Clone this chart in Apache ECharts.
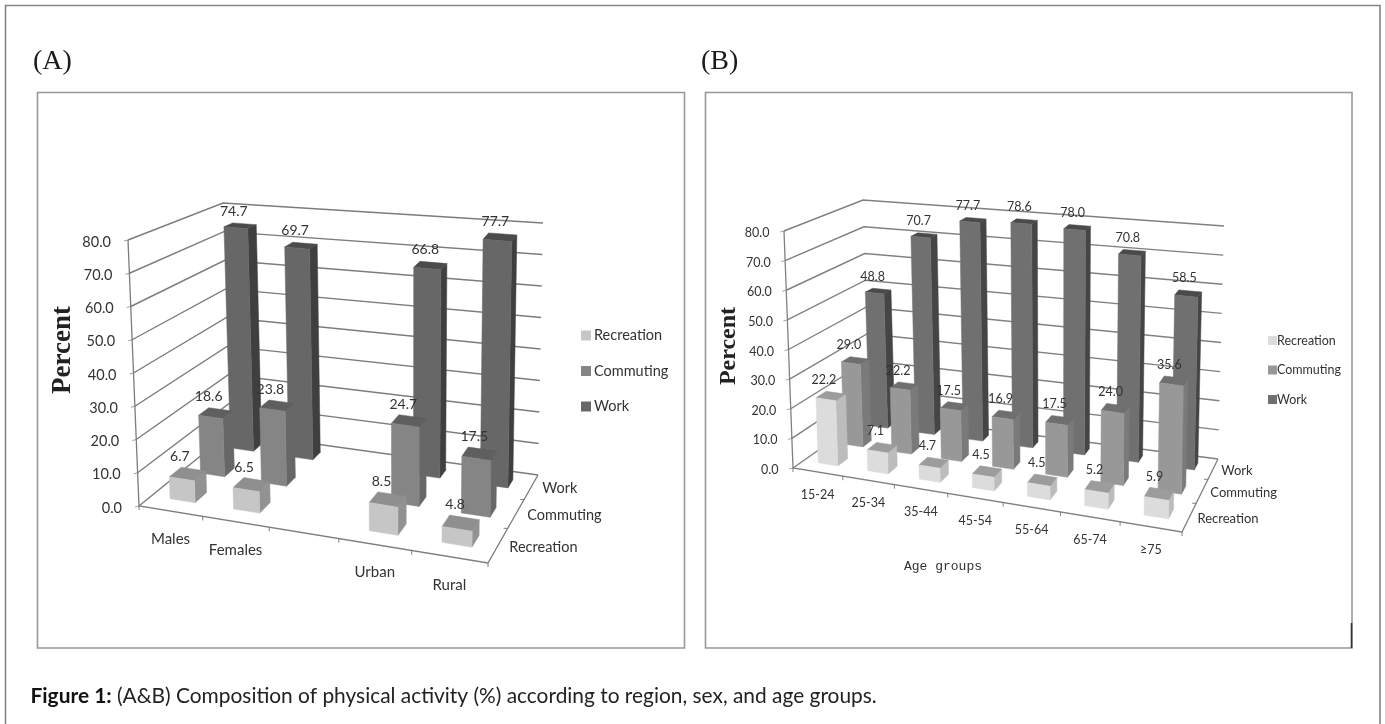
<!DOCTYPE html>
<html><head><meta charset="utf-8">
<style>html,body{margin:0;padding:0;background:#fff}#c{width:1385px;height:724px}</style>
<script src="https://cdn.jsdelivr.net/npm/echarts@6/dist/echarts.min.js"></script>
</head><body><div id="c"></div>
<script>
// ---------- data ----------
const seriesNames = ['Recreation', 'Commuting', 'Work'];
const yTicks = [0, 10, 20, 30, 40, 50, 60, 70, 80];

const categoriesA = ['Males', 'Females', '', 'Urban', 'Rural'];
const recreationA = [6.7, 6.5, null, 8.5, 4.8];
const commutingA  = [18.6, 23.8, null, 24.7, 17.5];
const workA       = [74.7, 69.7, null, 66.8, 77.7];

const categoriesB = ['15-24', '25-34', '35-44', '45-54', '55-64', '65-74', '≥75'];
const recreationB = [22.2, 7.1, 4.7, 4.5, 4.5, 5.2, 5.9];
const commutingB  = [29.0, 22.2, 17.5, 16.9, 17.5, 24.0, 35.6];
const workB       = [48.8, 70.7, 77.7, 78.6, 78.0, 70.8, 58.5];

// ---------- layout & style of each panel: a hand-made 3D box (8 screen corners) ----------
const depthCentres = [0.5, 1.42, 2.5];
const panelA = {
  grid: {left: 139, top: 198, width: 349, height: 304},
  flb: [139, 506], flt: [128, 240], blb: [230, 432], blt: [223, 203],
  frb: [488, 563], frt: [492, 295], brb: [538, 475], brt: [543, 223],
  persU: 0.12, persW: 0.3,
  font: {value: 14, axis: 14.5, cat: 15, depth: 14.5},
  catDy: 28, depthDx: 11, axisDx: -17,
  colors: [
    {front: '#c6c6c6', top: '#8f8f8f', side: '#929292'},
    {front: '#858585', top: '#5f5f5f', side: '#676767'},
    {front: '#676767', top: '#4b4b4b', side: '#3f3f3f'}
  ],
  line: '#7c7c7c', wall: '#a0a0a0'
};
const panelB = {
  grid: {left: 793, top: 200, width: 300, height: 292},
  flb: [793, 468], flt: [784, 231], blb: [870, 414], blt: [863, 200],
  frb: [1182, 532], frt: [1186, 277], brb: [1218, 459], brt: [1224, 226],
  persU: 0.135, persW: 0.3,
  font: {value: 12.5, axis: 12.5, cat: 12.5, depth: 13},
  catDy: 23, depthDx: 8, axisDx: -14.5,
  colors: [
    {front: '#dcdcdc', top: '#9c9c9c', side: '#bcbcbc'},
    {front: '#989898', top: '#6f6f6f', side: '#7a7a7a'},
    {front: '#707070', top: '#4a4a4a', side: '#454545'}
  ],
  line: '#808080', wall: '#a6a6a6'
};
const FONT = 'Lato, "Open Sans", sans-serif';
const TEXT = '#333333';

// ---------- projection ----------
function project(P, u, w, v) {
  const uu = u / (1 + P.persU * (1 - u));
  const ww = w * (1 + P.persW) / (1 + P.persW * w);
  const mix = (a, b, t) => [a[0] + (b[0] - a[0]) * t, a[1] + (b[1] - a[1]) * t];
  const bottom = mix(mix(P.flb, P.frb, uu), mix(P.blb, P.brb, uu), ww);
  const top = mix(mix(P.flt, P.frt, uu), mix(P.blt, P.brt, uu), ww);
  return mix(bottom, top, v);
}
function toUV(P, pt) {
  const g = P.grid;
  return [(pt[0] - g.left) / g.width, (g.top + g.height - pt[1]) / g.height];
}
const poly = (points, fill) => ({type: 'polygon', shape: {points}, style: {fill, stroke: fill, lineWidth: 0.5}});
const line = (points, stroke, lineWidth) => ({type: 'polyline', shape: {points}, style: {fill: 'none', stroke, lineWidth}});
const text = (t, x, y, size, align) => ({type: 'text', style: {text: t, x, y, fill: TEXT, font: size + 'px ' + FONT, align: align || 'center', verticalAlign: 'middle'}});
const depthRange = d => [(depthCentres[d] - 0.17) / 3, (depthCentres[d] + 0.17) / 3];

// ---------- render functions ----------
function barRenderer(P, depth) {
  return function (params, api) {
    const val = api.value(1);
    if (val == null || isNaN(val)) return;
    const c = toUV(P, api.coord([api.value(0), val]));
    const band = api.size([1, 0])[0] / P.grid.width;
    const u0 = c[0] - band * 0.2, u1 = c[0] + band * 0.2;
    const [w0, w1] = depthRange(depth);
    const v = c[1], col = P.colors[depth];
    return {type: 'group', children: [
      poly([project(P, u1, w0, 0), project(P, u1, w1, 0), project(P, u1, w1, v), project(P, u1, w0, v)], col.side),
      poly([project(P, u0, w0, v), project(P, u1, w0, v), project(P, u1, w1, v), project(P, u0, w1, v)], col.top),
      poly([project(P, u0, w0, 0), project(P, u1, w0, 0), project(P, u1, w0, v), project(P, u0, w0, v)], col.front)
    ]};
  };
}
function valueLabelRenderer(P, size) {
  return function (params, api) {
    const val = api.value(1), depth = api.value(2);
    if (val == null || isNaN(val)) return;
    const c = toUV(P, api.coord([api.value(0), val]));
    const [w0, w1] = depthRange(depth);
    const a = project(P, c[0], w0, c[1]), b = project(P, c[0], w1, c[1]);
    return text(val.toFixed(1), a[0] - 2, b[1] - 12.5, size);
  };
}
function wallRenderer(P) {
  return function (params, api) {
    const v = toUV(P, api.coord([0, api.value(0)]))[1];
    const tickEnd = project(P, 0, 0, v);
    return {type: 'group', children: [
      line([project(P, 0, 0, v), project(P, 0, 1, v), project(P, 1, 1, v)], P.line, 1.4),
      line([tickEnd, [tickEnd[0] - 4, tickEnd[1] + 1]], P.wall, 1),
      text(api.value(0).toFixed(1), tickEnd[0] + P.axisDx, tickEnd[1] + 2, P.font.axis, 'right')
    ]};
  };
}
function frameRenderer(P, nCat) {
  return function () {
    const kids = [
      line([project(P, 0, 0, 1), project(P, 0, 0, 0), project(P, 1, 0, 0), project(P, 1, 1, 0)], P.line, 1.3)
    ];
    for (let i = 0; i <= nCat; i++) {
      const p = project(P, i / nCat, 0, 0);
      kids.push(line([p, [p[0], p[1] + 4]], P.line, 1));
    }
    for (let i = 1; i < 3; i++) {
      const p = project(P, 1, i / 3, 0);
      kids.push(line([p, [p[0] - 4, p[1]]], P.line, 1));
    }
    return {type: 'group', children: kids};
  };
}
const labelsOf = P => P === panelA ? categoriesA : categoriesB;
function categoryRenderer(P) {
  return function (params, api) {
    const u = toUV(P, api.coord([api.value(0), 0]))[0];
    const p = project(P, u, 0, 0);
    return text(labelsOf(P)[params.dataIndex], p[0], p[1] + P.catDy, P.font.cat);
  };
}
function depthRenderer(P) {
  return function (params) {
    const i = params.dataIndex;
    const p = project(P, 1, (i + 0.5) / 3, 0);
    return text(seriesNames[i], p[0] + P.depthDx, p[1] + 2, P.font.depth, 'left');
  };
}

// ---------- option builders ----------
function panelSeries(P, idx, cats, values) {
  const base = {type: 'custom', xAxisIndex: idx, yAxisIndex: idx, coordinateSystem: 'cartesian2d', silent: true, clip: false, animation: false};
  const list = [
    {...base, name: 'walls' + idx, z: 1, data: yTicks.map(t => [t]), encode: {x: 'none', y: 0}, renderItem: wallRenderer(P)},
    {...base, name: 'frame' + idx, z: 2, data: [[0, 0]], renderItem: frameRenderer(P, cats.length)},
    {...base, name: 'categories' + idx, z: 2, data: cats.map((c, i) => [i, 0]), renderItem: categoryRenderer(P)},
    {...base, name: 'depth' + idx, z: 2, data: seriesNames.map(() => [0, 0]), renderItem: depthRenderer(P)}
  ];
  [2, 1, 0].forEach((d, order) => {
    list.push({...base, name: seriesNames[d], z: 3 + order,
      itemStyle: {color: P.colors[d].front},
      data: values[d].map((v, i) => [i, v]), renderItem: barRenderer(P, d)});
  });
  const lab = [];
  values.forEach((arr, d) => arr.forEach((v, i) => { if (v != null) lab.push([i, v, d]); }));
  list.push({...base, name: 'values' + idx, z: 7, data: lab, renderItem: valueLabelRenderer(P, P.font.value)});
  return list;
}
const hiddenAxis = {axisLine: {show: false}, axisTick: {show: false}, axisLabel: {show: false}, splitLine: {show: false}};
const legendOf = (P, left, top, gap, size, icon, pad) => ({
  orient: 'vertical', left, top, itemGap: gap, itemWidth: icon, itemHeight: icon, icon: 'rect', selectedMode: false,
  textStyle: {fontFamily: FONT, fontSize: size, color: TEXT, padding: [0, 0, 0, pad]},
  data: seriesNames.map((n, i) => ({name: n, itemStyle: {color: P.colors[i].front}}))
});
const frameRect = (x, y, w, h, stroke) => ({type: 'rect', silent: true, z: -1, shape: {x, y, width: w, height: h}, style: {fill: 'none', stroke, lineWidth: 1.6}});
const serif = (t, x, y) => ({type: 'text', silent: true, style: {text: t, x, y, fill: '#1a1a1a', font: '28px "Liberation Serif", serif', verticalAlign: 'middle'}});

const option = {
  animation: false,
  backgroundColor: '#fff',
  title: {
    left: 30.5, top: 686, padding: 0,
    text: '{b|Figure 1:} (A&B) Composition of physical activity (%) according to region, sex, and age groups.',
    textStyle: {fontFamily: FONT, fontSize: 20.9, fontWeight: 'normal', color: '#222',
      rich: {b: {fontFamily: FONT, fontSize: 20.9, fontWeight: 'bold', color: '#111'}}}
  },
  grid: [panelA.grid, panelB.grid].map(g => ({...g, containLabel: false})),
  xAxis: [
    {gridIndex: 0, type: 'category', data: categoriesA, ...hiddenAxis},
    {gridIndex: 1, type: 'category', data: categoriesB, ...hiddenAxis, name: 'Age groups', nameLocation: 'middle', nameGap: 68,
      nameTextStyle: {fontFamily: '"Liberation Mono", monospace', fontSize: 13, color: TEXT}}
  ],
  yAxis: [
    {gridIndex: 0, type: 'value', min: 0, max: 80, interval: 10, ...hiddenAxis, name: 'Percent', nameLocation: 'middle', nameGap: 62, nameRotate: 90,
      nameTextStyle: {fontFamily: '"Liberation Serif", serif', fontWeight: 'bold', fontSize: 27, color: '#222'}},
    {gridIndex: 1, type: 'value', min: 0, max: 80, interval: 10, ...hiddenAxis, name: 'Percent', nameLocation: 'middle', nameGap: 52, nameRotate: 90,
      nameTextStyle: {fontFamily: '"Liberation Serif", serif', fontWeight: 'bold', fontSize: 24, color: '#222'}}
  ],
  legend: [legendOf(panelA, 576, 323, 20.5, 14.5, 10, [-2][0]), legendOf(panelB, 1263, 329, 16.5, 12.5, 9, -5)],
  graphic: [
    frameRect(5.5, 5.5, 1374.5, 760, '#858585'),
    frameRect(37.5, 92.5, 647, 555.5, '#989898'),
    frameRect(705.5, 92.5, 646.5, 555.5, '#989898'),
    {type: 'line', silent: true, z: 0, shape: {x1: 1351.5, y1: 623, x2: 1351.5, y2: 648}, style: {stroke: '#333', lineWidth: 1.6}},
    serif('(A)', 33, 62),
    serif('(B)', 701, 62)
  ],
  series: [
    ...panelSeries(panelA, 0, categoriesA, [recreationA, commutingA, workA]),
    ...panelSeries(panelB, 1, categoriesB, [recreationB, commutingB, workB])
  ]
};
echarts.init(document.getElementById('c'), null, {renderer: 'canvas'}).setOption(option);
</script></body></html>
